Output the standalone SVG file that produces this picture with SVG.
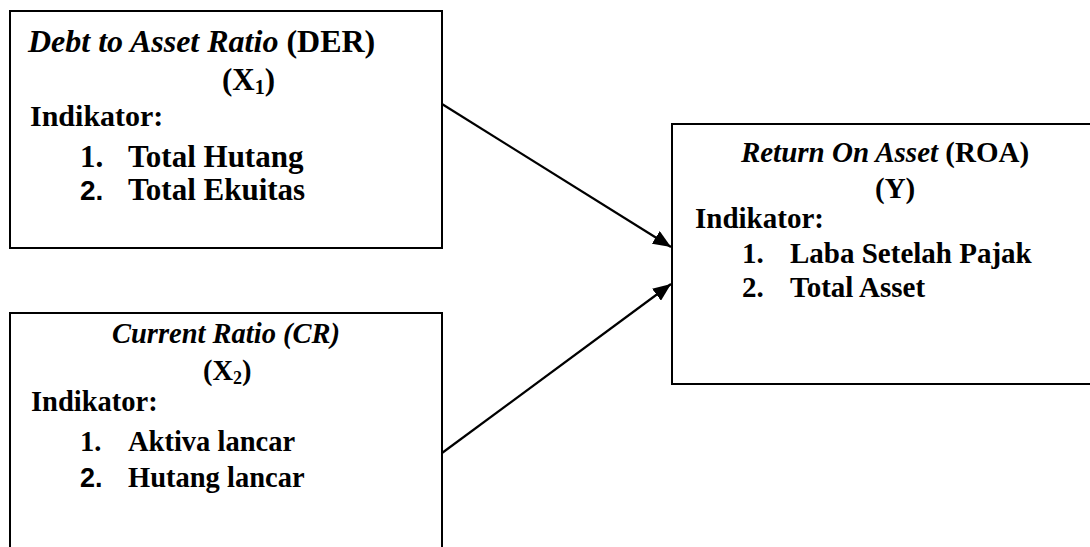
<svg xmlns="http://www.w3.org/2000/svg" width="1090" height="547" viewBox="0 0 1090 547">
<style>
.box{fill:#fff;stroke:#000;stroke-width:2}
.t{font-family:"Liberation Serif","Times New Roman",serif;font-weight:bold;fill:#000}
.i{font-style:italic}
.s{font-family:"Liberation Sans",Arial,sans-serif;font-weight:bold}
.conn{stroke:#000;stroke-width:2.2;fill:none}
</style>
<defs>
<marker id="ah" markerUnits="userSpaceOnUse" markerWidth="19" markerHeight="15" refX="18" refY="7.5" orient="auto">
<path d="M0,0 L18,7.5 L0,15 z" fill="#000"/>
</marker>
</defs>
<rect width="1090" height="547" fill="#fff"/>
<g id="connectors">
<line class="conn" x1="442" y1="104" x2="671" y2="247" marker-end="url(#ah)"/>
<line class="conn" x1="442" y1="453" x2="671" y2="284" marker-end="url(#ah)"/>
</g>
<g id="node-x1">
<rect class="box" x="10" y="11" width="432" height="237"/>
<text class="t" x="28" y="52" font-size="32"><tspan class="i">Debt to Asset Ratio</tspan> (DER)</text>
<text class="t" x="222" y="90" font-size="31">(X<tspan font-size="20" dy="4">1</tspan><tspan dy="-4">)</tspan></text>
<text class="t" x="30" y="126" font-size="30">Indikator:</text>
<text class="t" x="80" y="167" font-size="31">1.</text>
<text class="t" x="128" y="167" font-size="31">Total Hutang</text>
<text class="t s" x="80" y="200" font-size="28">2.</text>
<text class="t" x="128" y="200" font-size="31">Total Ekuitas</text>
</g>
<g id="node-x2">
<rect class="box" x="10" y="313" width="432" height="250"/>
<text class="t i" x="226" y="343" font-size="28.5" text-anchor="middle">Current Ratio (CR)</text>
<text class="t" x="203" y="380" font-size="28.5">(X<tspan font-size="18" dy="4">2</tspan><tspan dy="-4">)</tspan></text>
<text class="t" x="31" y="411" font-size="28.5">Indikator:</text>
<text class="t" x="80" y="451" font-size="28.5">1.</text>
<text class="t" x="128" y="451" font-size="28.5">Aktiva lancar</text>
<text class="t s" x="80" y="487" font-size="27">2.</text>
<text class="t" x="128" y="487" font-size="28.5">Hutang lancar</text>
</g>
<g id="node-y">
<rect class="box" x="672" y="124" width="430" height="260"/>
<text class="t" x="885" y="162" font-size="29" text-anchor="middle"><tspan class="i">Return On Asset</tspan> (ROA)</text>
<text class="t" x="875" y="198" font-size="29">(Y)</text>
<text class="t" x="695" y="228" font-size="29">Indikator:</text>
<text class="t" x="742" y="263" font-size="29">1.</text>
<text class="t" x="790" y="263" font-size="29">Laba Setelah Pajak</text>
<text class="t" x="742" y="297" font-size="29">2.</text>
<text class="t" x="790" y="297" font-size="29">Total Asset</text>
</g>
</svg>
